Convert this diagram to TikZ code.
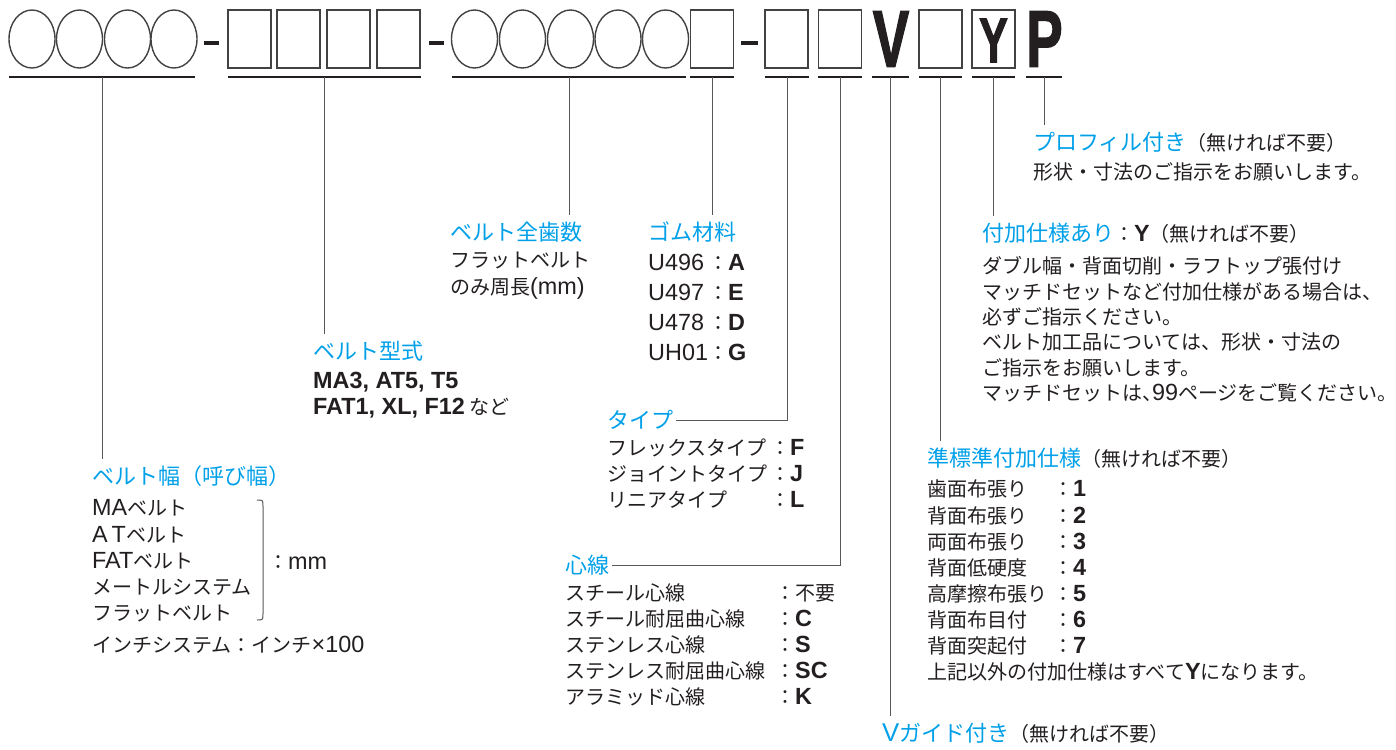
\documentclass[tikz,border=0pt]{standalone}
\usepackage{graphicx}
\usepackage{fontspec}
\setmainfont{Noto Sans CJK JP}
\newfontfamily\latfont{Liberation Sans}[Scale=1.17]
\newfontfamily\codefont{Liberation Sans}[BoldFeatures={FakeBold=2}]
\definecolor{catblue}{HTML}{00A0E9}
\definecolor{ink}{HTML}{231F20}
\newcommand{\latn}[1]{{\latfont #1}}
\newcommand{\latb}[1]{{\latfont\bfseries #1}}
\newcommand{\optnote}[1]{{\fontsize{20}{26}\selectfont\color{ink}#1}}
\newcommand{\kv}[3]{\makebox[#1][l]{#2}：\latb{#3}}

\begin{document}
\begin{tikzpicture}[
    x=1pt, y=-1pt,
    slot/.style={draw=ink!85, line width=1.4pt},
    uline/.style={draw=ink, line width=2.4pt},
    sep/.style={draw=ink, line width=4pt},
    lead/.style={draw=ink!75, line width=1pt},
    ttl/.style={anchor=base west, font=\fontsize{22}{26}\selectfont,
                text=catblue, text height=19pt, text depth=3pt,
                inner xsep=3pt, inner ysep=6pt},
    body/.style={anchor=base west, align=left, inner sep=0pt, text=ink,
                 font=\fontsize{20}{26}\selectfont},
    codeletter/.style={font=\codefont\bfseries\fontsize{80}{80}\selectfont,
                       inner sep=0pt, text=ink},
]
\useasboundingbox (0,0) rectangle (1396,749);

% code slots
\foreach \cx in {32,79.5,127.5,174}
    \draw[slot] (\cx,39) ellipse (23 and 29);
\foreach \cx in {249.5,298.5,348.5,398.5,712,786.5,840,940.5}
    \draw[slot] (\cx-21.5,10) rectangle ++(43,58);
\foreach \cx in {474.5,522.5,570.5,618,665.5}
    \draw[slot] (\cx,39) ellipse (23 and 29);
\draw[slot] (972,10) rectangle (1015,68);
\draw[sep] (204,43) -- (219,43);
\draw[sep] (429,43) -- (444,43);
\draw[sep] (741,43) -- (758,43);
\node[codeletter] (V) at (891,39) {\scalebox{0.68}[1]{V}};
\node[codeletter, font=\codefont\bfseries\fontsize{63}{63}\selectfont]
    (Y) at (993.5,40.5) {\scalebox{0.68}[1]{Y}};
\node[codeletter] (P) at (1044.5,39) {\scalebox{0.68}[1]{P}};

% underlines
\foreach \a/\b/\n in {9/195/u1, 228/421/u2, 452/686/u3, 690/734/u4,
                      765/809/u5, 818/862/u6, 872/909/u7, 919/962/u8,
                      972/1015/u9, 1026/1062/u10}{
    \draw[uline] (\a,77) -- (\b,77);
    \coordinate (\n) at ({(\a+\b)/2},77);
}

% titles
\node[ttl] (beltw) at (89,484.4) {ベルト幅（呼び幅）};
\node[ttl] (btype) at (310,359.4) {ベルト型式};
\node[ttl] (teeth) at (447,240.4) {ベルト全歯数};
\node[ttl] (rubber) at (645,240.4) {ゴム材料};
\node[ttl] (kind) at (604,428.4) {タイプ};
\node[ttl] (cord) at (562,573.4) {心線};
\node[ttl] (vguide) at (879,741.4) {\latn{V}ガイド付き\optnote{（無ければ不要）}};
\node[ttl] (semi) at (924,466.4) {準標準付加仕様\optnote{（無ければ不要）}};
\node[ttl] (extra) at (979,241.4)
    {付加仕様あり\optnote{：\latb{Y}（無ければ不要）}};
\node[ttl] (profile) at (1030,150.4) {プロフィル付き\optnote{（無ければ不要）}};

% bodies (base = last line)
\node[body, font=\fontsize{20}{26.2}\selectfont] (beltwlist) at (92,620.6)
    {\latn{MA}ベルト\\\latn{A\,T}ベルト\\\latn{FAT}ベルト\\メートルシステム\\フラットベルト};
\node[body] (beltwmm) at (268,569.6) {：\latn{mm}};
\node[body] (beltwinch) at (92,652.6) {インチシステム：インチ\latn{×100}};
\node[body] (btypelist) at (313,414.6)
    {\latb{MA3, AT5, T5}\\\latb{FAT1, XL, F12} など};
\node[body, font=\fontsize{20}{27}\selectfont] (teethlist) at (450,294.6)
    {フラットベルト\\のみ周長\latn{(mm)}};
\node[body, font=\fontsize{20}{30}\selectfont] (rubberlist) at (648,360.6)
    {\kv{60pt}{\latn{U496}}{A}\\\kv{60pt}{\latn{U497}}{E}\\
     \kv{60pt}{\latn{U478}}{D}\\\kv{60pt}{\latn{UH01}}{G}};
\node[body] (kindlist) at (607,507.6)
    {\kv{163pt}{フレックスタイプ}{F}\\\kv{163pt}{ジョイントタイプ}{J}\\
     \kv{163pt}{リニアタイプ}{L}};
\node[body] (cordlist) at (565,704.6)
    {\makebox[210pt][l]{スチール心線}：不要\\\kv{210pt}{スチール耐屈曲心線}{C}\\
     \kv{210pt}{ステンレス心線}{S}\\\kv{210pt}{ステンレス耐屈曲心線}{SC}\\
     \kv{210pt}{アラミッド心線}{K}};
\node[body, font=\fontsize{20}{26.1}\selectfont] (semilist) at (927,679.6)
    {\kv{126pt}{歯面布張り}{1}\\\kv{126pt}{背面布張り}{2}\\
     \kv{126pt}{両面布張り}{3}\\\kv{126pt}{背面低硬度}{4}\\
     \kv{126pt}{高摩擦布張り}{5}\\\kv{126pt}{背面布目付}{6}\\
     \kv{126pt}{背面突起付}{7}\\上記以外の付加仕様はすべて\latb{Y}になります。};
\node[body, font=\fontsize{20}{25.4}\selectfont] (extralist) at (982,400.6)
    {ダブル幅・背面切削・ラフトップ張付け\\
     マッチドセットなど付加仕様がある場合は、\\
     必ずご指示ください。\\
     ベルト加工品については、形状・寸法の\\
     ご指示をお願いします。\\
     マッチドセットは\makebox[10pt][l]{、}\latn{99}ページをご覧ください。};
\node[body] (profilelist) at (1033,179.6) {形状・寸法のご指示をお願いします。};

% brace
\draw[lead] (257,500) .. controls (263,500) .. (263,507) -- (263,613)
    .. controls (263,620) .. (257,620);

% leads
\draw[lead] (u1) -- (u1 |- beltw.north);
\draw[lead] (u2) -- (u2 |- btype.north);
\draw[lead] (u3) -- (u3 |- teeth.north);
\draw[lead] (u4) -- (u4 |- rubber.north);
\draw[lead] (u5) |- (kind.east);
\draw[lead] (u6) |- (cord.east);
\draw[lead] (u7) -- (u7 |- vguide.north);
\draw[lead] (u8) -- (u8 |- semi.north);
\draw[lead] (u9) -- (u9 |- extra.north);
\draw[lead] (u10) -- (u10 |- profile.north);

\end{tikzpicture}
\end{document}
